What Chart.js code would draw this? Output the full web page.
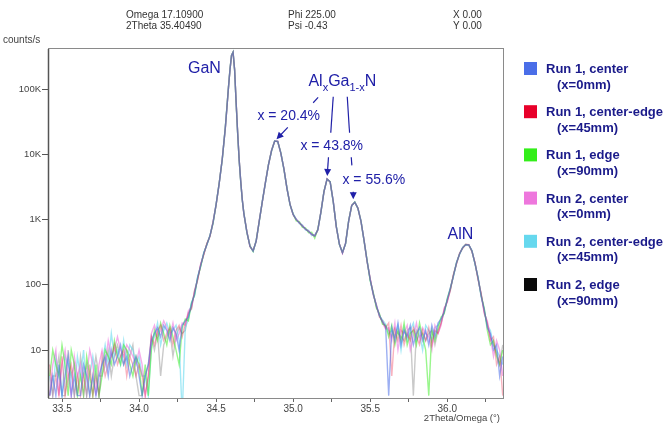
<!DOCTYPE html>
<html><head><meta charset="utf-8">
<script src="https://cdn.jsdelivr.net/npm/chart.js@4.4.1/dist/chart.umd.min.js"></script>
<style>html,body{margin:0;padding:0;background:#fff;}canvas{display:block;}</style>
</head><body>
<canvas id="c" width="666" height="425"></canvas>
<script>
// 2Theta/Omega angles (deg)
const angles = [
 33.42,33.44,33.46,33.48,33.50,33.52,33.54,33.56,33.58,33.60,33.62,33.64,33.66,33.68,33.70,33.72,33.74,33.76,33.78,33.80,33.82,33.84,33.86,33.88,33.90,33.92,33.94,33.96,33.98,34.00,34.02,34.04,34.06,34.08,34.10,34.12,34.14,34.16,34.18,34.20,34.22,34.24,34.26,34.28,34.30,
 34.32,34.34,34.36,34.38,34.40,34.42,34.44,34.46,34.48,34.50,34.52,34.54,34.56,
 34.57,34.58,34.59,34.60,34.61,34.62,34.63,34.64,34.65,34.66,34.67,34.68,
 34.70,34.72,34.74,34.76,34.78,34.80,34.82,34.84,34.86,34.88,34.90,34.92,34.94,34.96,34.98,35.00,35.02,35.04,35.06,35.08,35.10,35.12,35.14,35.16,35.18,35.20,35.22,35.24,35.26,35.28,35.30,35.32,35.34,35.36,35.38,35.40,35.42,35.44,35.46,35.48,35.50,35.52,35.54,35.56,35.58,35.60,
 35.62,35.64,35.66,35.68,35.70,35.72,35.74,35.76,35.78,35.80,35.82,35.84,35.86,35.88,35.90,35.92,35.94,35.96,35.98,36.00,36.02,36.04,36.06,36.08,36.10,36.12,36.14,36.16,36.18,36.20,36.22,36.24,36.26,36.28,36.30,36.32,36.34,36.36
];

// counts/s for each run
const run1Center = [
 2,4,2,6,2,4,8,2,4,2,2,6,4,2,4,2,4,6,8,4,10,6,8,12,6,8,4,6,8,4,2,4,6,14,18,22,16,24,20,14,22,18,10,24,28,
 32,50,72,130,195,310,410,570,890,1720,3600,8500,26000,
 52000,105000,200000,330000,370000,200000,62000,21000,8000,3800,2000,1250,
 640,390,330,470,950,1900,3700,7000,11500,16000,15800,10500,6000,3000,1700,1200,1000,900,800,720,660,600,560,700,1300,2700,4200,3800,1900,780,420,310,430,950,1650,1850,1500,950,480,230,120,72,48,34,27,23,
 2,22,14,26,12,20,16,24,12,18,22,14,20,12,24,16,26,30,38,60,90,135,220,295,375,412,408,335,210,130,66,42,22,18,10,12,4,8
];
const run1CenterEdge = [
 6,2,4,2,8,2,4,6,2,4,2,4,2,6,2,4,2,8,4,6,8,12,6,8,10,4,8,6,4,6,4,2,4,16,12,20,24,14,18,22,12,20,24,16,26,
 36,44,80,118,205,290,430,550,920,1680,3550,8600,25500,
 51000,104000,198000,328000,368000,202000,63000,21500,8100,3850,2020,1240,
 650,385,335,465,960,1880,3720,6950,11600,15900,15900,10400,6050,2980,1710,1190,1010,890,810,710,670,590,570,690,1310,2680,4220,3780,1920,770,425,305,435,940,1660,1840,1510,940,485,225,125,70,50,32,28,22,
 26,4,20,14,24,12,18,14,22,16,12,20,14,22,12,20,18,26,42,56,82,145,210,305,365,418,412,325,220,120,74,38,26,14,16,6,8,2
];
const run1Edge = [
 4,10,6,4,12,6,2,10,6,2,4,2,8,4,2,6,2,4,10,8,6,14,8,6,12,10,6,4,8,6,2,6,2,10,20,14,26,18,12,24,16,10,6,22,30,
 28,52,70,128,190,305,415,565,880,1700,3650,8400,26500,
 53000,106000,202000,332000,372000,198000,61000,20500,7900,3750,1980,1260,
 630,395,325,475,940,1910,3680,7050,11400,16100,15700,10600,5950,3020,1690,1220,960,930,760,750,630,640,520,720,1290,2720,4180,3820,1880,790,415,315,425,960,1640,1860,1490,960,475,235,115,76,44,36,25,24,
 16,24,12,20,14,26,12,18,20,12,26,16,10,2,20,14,22,32,36,62,88,138,218,298,372,414,406,332,212,128,68,44,20,12,14,8,6,10
];
const run2Center = [
 2,6,10,2,6,10,4,2,8,4,6,2,4,10,6,2,6,10,6,14,8,10,16,10,8,12,10,8,6,10,6,2,4,18,24,16,20,28,22,16,26,14,18,26,24,
 40,46,78,120,210,295,425,555,910,1690,3620,8550,25800,
 51500,104500,199000,331000,369000,201000,62500,21200,8050,3820,2010,1245,
 645,388,332,468,955,1895,3710,6980,11550,15950,15850,10450,6020,2990,1705,1195,1005,905,795,725,655,605,555,705,1305,2690,4210,3790,1910,775,422,308,432,945,1655,1845,1505,945,482,228,122,74,46,35,26,21,
 22,14,26,10,20,18,24,10,16,26,14,22,18,16,10,24,18,24,44,54,86,142,212,302,368,416,411,328,218,122,72,36,28,16,8,14,10,4
];
const run2CenterEdge = [
 4,2,8,4,2,8,6,4,2,8,4,10,2,4,8,4,2,6,12,6,18,8,10,6,14,6,12,10,6,8,4,4,2,12,16,26,12,20,26,18,20,24,14,1,22,
 30,54,68,132,198,302,418,562,895,1710,3580,8450,26200,
 52500,105500,201000,329000,371000,199000,61500,20800,7950,3780,1990,1255,
 635,392,328,472,945,1905,3690,7020,11450,16050,15750,10550,5980,3010,1695,1210,1030,870,830,690,690,570,590,680,1295,2710,4190,3810,1890,785,418,312,428,955,1645,1855,1495,955,478,232,118,71,49,33,29,25,
 18,20,16,24,10,22,14,20,26,14,18,10,24,20,14,22,24,28,40,58,84,140,216,300,370,415,409,331,214,126,70,40,24,20,12,10,8,6
];
const run2Edge = [
 2,4,4,8,2,2,10,4,6,2,8,4,6,2,4,8,4,4,6,10,4,8,12,8,6,10,8,12,4,2,2,4,6,16,10,18,4,12,16,20,8,16,22,18,20,
 38,42,82,122,202,298,422,558,905,1705,3610,8520,26100,
 52200,105200,200500,330500,370500,200500,62200,21100,8020,3810,2005,1252,
 642,391,331,469,952,1898,3705,6990,11520,15980,15820,10480,6010,2995,1702,1198,1002,898,802,718,662,598,562,698,1302,2698,4205,3795,1905,778,421,309,431,948,1652,1848,1502,948,481,229,121,73,47,34,27,23,
 20,16,22,18,16,14,20,22,2,20,16,18,14,18,20,12,20,26,38,58,86,139,214,301,371,414,410,330,216,124,70,40,24,16,12,9,6,12
];

const seriesNames = ['Run 1, center','Run 1, center-edge','Run 1, edge','Run 2, center','Run 2, center-edge','Run 2, edge'];
const seriesNotes = ['(x=0mm)','(x=45mm)','(x=90mm)','(x=0mm)','(x=45mm)','(x=90mm)'];
const seriesColors = ['#4a6ee8','#e8002a','#33ee1a','#ee77dd','#66d8ee','#0a0a0a'];
const seriesValues = [run1Center, run1CenterEdge, run1Edge, run2Center, run2CenterEdge, run2Edge];

const yTickValues = [10, 100, 1000, 10000, 100000];
const yTickLabels = ['10', '100', '1K', '10K', '100K'];
const xTickValues = [33.5, 33.75, 34.0, 34.25, 34.5, 34.75, 35.0, 35.25, 35.5, 35.75, 36.0, 36.25];
const xTickLabels = ['33.5', '', '34.0', '', '34.5', '', '35.0', '', '35.5', '', '36.0', ''];

const headerTexts = [['Omega 17.10900', '2Theta 35.40490'], ['Phi 225.00', 'Psi -0.43'], ['X 0.00', 'Y 0.00']];

// annotation anchors in data space: [angle, log10(counts)]
const labelGaN = {text: 'GaN', at: [34.424, 5.249]};
const labelAlN = {text: 'AlN', at: [36.086, 2.710]};
const labelAlGaN = {at: [35.099, 5.042]};
const compLabels = [
  {text: 'x = 20.4%', at: [34.768, 4.535]},
  {text: 'x = 43.8%', at: [35.047, 4.075]},
  {text: 'x = 55.6%', at: [35.320, 3.554]}
];
const leaderLines = [
  {from: [35.162, 4.876], to: [35.130, 4.793], arrow: false},
  {from: [34.965, 4.416], to: [34.892, 4.232], arrow: true},
  {from: [35.260, 4.885], to: [35.244, 4.333], arrow: false},
  {from: [35.351, 4.885], to: [35.366, 4.333], arrow: false},
  {from: [35.229, 3.956], to: [35.221, 3.669], arrow: true},
  {from: [35.377, 3.956], to: [35.381, 3.833], arrow: false},
  {from: [35.390, 3.428], to: [35.390, 3.312], arrow: true}
];

const FONT = "'Liberation Sans', Arial, sans-serif";
const ANN = '#2020a8';

function withAlpha(hex, a) {
  const n = parseInt(hex.slice(1), 16);
  return `rgba(${(n >> 16) & 255},${(n >> 8) & 255},${n & 255},${a})`;
}

const overlay = {
  id: 'overlay',
  afterDatasetsDraw(chart) {
    const {ctx, chartArea: a, scales: {x, y}} = chart;
    const P = (p) => [x.getPixelForValue(p[0]), y.getPixelForValue(Math.pow(10, p[1]))];
    ctx.save();
    // frame
    ctx.strokeStyle = '#8a8a8a'; ctx.lineWidth = 1;
    ctx.strokeRect(a.left - 0.5, a.top - 0.5, a.right - a.left + 1, a.bottom - a.top + 1);
    ctx.strokeStyle = '#555'; ctx.lineWidth = 1.5;
    ctx.beginPath(); ctx.moveTo(a.left - 0.5, a.top); ctx.lineTo(a.left - 0.5, a.bottom); ctx.stroke();

    // header
    ctx.fillStyle = '#333'; ctx.font = '10px ' + FONT; ctx.textBaseline = 'middle';
    const hx = [126, 288, 453];
    headerTexts.forEach((pair, i) => {
      ctx.textAlign = 'left';
      ctx.fillText(pair[0], hx[i], 15);
      ctx.fillText(pair[1], hx[i], 26);
    });
    ctx.font = '10px ' + FONT; ctx.fillStyle = '#444';
    ctx.fillText('counts/s', 3, 40);
    ctx.textAlign = 'right'; ctx.font = '9.5px ' + FONT;
    ctx.fillText('2Theta/Omega (°)', a.right - 3, 418);

    // annotations
    ctx.fillStyle = ANN; ctx.strokeStyle = ANN; ctx.lineWidth = 1.2;
    ctx.textBaseline = 'alphabetic';
    ctx.font = '16px ' + FONT; ctx.textAlign = 'center';
    let p = P(labelGaN.at); ctx.fillText(labelGaN.text, p[0], p[1]);
    p = P(labelAlN.at); ctx.fillText(labelAlN.text, p[0], p[1]);
    // AlxGa1-xN
    p = P(labelAlGaN.at); ctx.textAlign = 'left';
    let cx = p[0];
    const parts = [['Al', false], ['x', true], ['Ga', false], ['1-x', true], ['N', false]];
    parts.forEach(([t, sub]) => {
      ctx.font = (sub ? '11px ' : '16px ') + FONT;
      ctx.fillText(t, cx, p[1] + (sub ? 4.5 : 0));
      cx += ctx.measureText(t).width;
    });
    ctx.font = '14px ' + FONT;
    compLabels.forEach(l => { const q = P(l.at); ctx.fillText(l.text, q[0], q[1]); });
    leaderLines.forEach(l => {
      const f = P(l.from), t = P(l.to);
      const ang = Math.atan2(t[1] - f[1], t[0] - f[0]);
      const hl = 7, hw = 3.5;
      const end = l.arrow ? [t[0] - Math.cos(ang) * hl * 0.8, t[1] - Math.sin(ang) * hl * 0.8] : t;
      ctx.beginPath(); ctx.moveTo(f[0], f[1]); ctx.lineTo(end[0], end[1]); ctx.stroke();
      if (l.arrow) {
        const bx = t[0] - Math.cos(ang) * hl, by = t[1] - Math.sin(ang) * hl;
        ctx.beginPath();
        ctx.moveTo(t[0], t[1]);
        ctx.lineTo(bx + Math.sin(ang) * hw, by - Math.cos(ang) * hw);
        ctx.lineTo(bx - Math.sin(ang) * hw, by + Math.cos(ang) * hw);
        ctx.closePath(); ctx.fill();
      }
    });

    // legend
    const lx = a.right + 21;
    seriesNames.forEach((name, i) => {
      const top = 62 + i * 43.2;
      ctx.fillStyle = seriesColors[i];
      ctx.fillRect(lx, top, 13, 13);
      ctx.fillStyle = '#1a1a8a'; ctx.font = 'bold 13px ' + FONT;
      ctx.textAlign = 'left'; ctx.textBaseline = 'middle';
      ctx.fillText(name, lx + 22, top + 7.5);
      ctx.fillText(seriesNotes[i], lx + 33, top + 23);
    });
    ctx.restore();
  }
};

const lineAlpha = [0.55, 0.3, 0.5, 0.6, 0.6, 0.22];

new Chart(document.getElementById('c'), {
  type: 'line',
  data: {
    datasets: seriesValues.map((vals, i) => ({
      label: seriesNames[i],
      data: angles.map((a, j) => ({x: a, y: vals[j]})),
      borderColor: withAlpha(seriesColors[i], lineAlpha[i]),
      backgroundColor: seriesColors[i],
      borderWidth: 1.4,
      pointRadius: 0,
      tension: 0,
      fill: false
    }))
  },
  options: {
    responsive: false,
    animation: false,
    events: [],
    layout: {padding: {left: 0, top: 49, right: 163, bottom: 0}},
    plugins: {legend: {display: false}, tooltip: {enabled: false}},
    scales: {
      x: {
        type: 'linear', min: 33.4156, max: 36.3617,
        afterBuildTicks: s => { s.ticks = xTickValues.map(v => ({value: v})); },
        afterFit: s => { s.height = 27; },
        ticks: {autoSkip: false, maxRotation: 0, padding: 1, color: '#444',
                font: {family: FONT, size: 10},
                callback: (v, i) => xTickLabels[i]},
        grid: {drawOnChartArea: false, drawTicks: true, tickLength: 4, color: '#666'},
        border: {display: false}
      },
      y: {
        type: 'logarithmic', min: 1.84, max: 414000,
        afterBuildTicks: s => { s.ticks = yTickValues.map(v => ({value: v})); },
        afterFit: s => { s.width = 49; },
        ticks: {padding: 1, color: '#444', font: {family: FONT, size: 9.5},
                callback: (v, i) => yTickLabels[i]},
        grid: {drawOnChartArea: false, drawTicks: true, tickLength: 7, color: '#555'},
        border: {display: false}
      }
    }
  },
  plugins: [overlay]
});
</script>
</body></html>
